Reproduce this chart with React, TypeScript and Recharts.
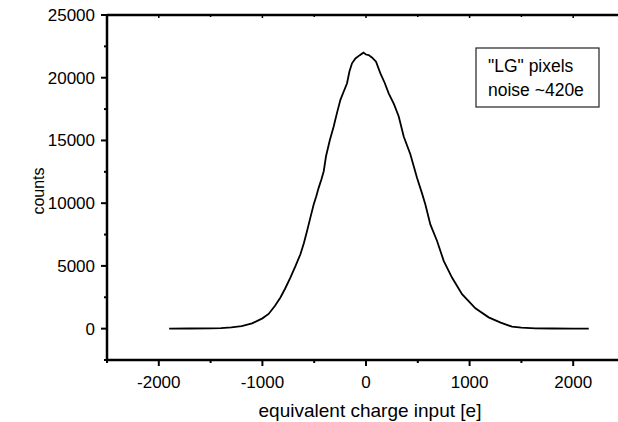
import { LineChart, Line, XAxis, YAxis } from "recharts"

// equivalent charge input [e] and counts
const charge = [
  -1900, -1700, -1500, -1400, -1300, -1200, -1100, -1000, -940, -880,
  -826, -780, -730, -680, -633, -600, -569, -537, -505, -480,
  -457, -430, -408, -386, -350, -312, -280, -247, -215, -183,
  -160, -135, -102, -60, -25, 0, 26, 60, 97, 139,
  180, 219, 270, 316, 364, 428, 493, 540, 573, 621,
  686, 750, 830, 927, 1056, 1184, 1300, 1409, 1500, 1635,
  1800, 2000, 2150,
]
const counts = [
  0, 10, 20, 40, 100, 200, 420, 820, 1170, 1800,
  2480, 3200, 4070, 5000, 5930, 6800, 7780, 8850, 9900, 10550,
  11220, 11900, 12550, 13740, 15000, 16120, 17200, 18240, 18900, 19560,
  20500, 21150, 21540, 21800, 22000, 21850, 21810, 21600, 21280, 20350,
  19600, 18760, 17900, 16910, 15320, 13900, 12010, 10800, 9900, 8310,
  6990, 5400, 4070, 2750, 1620, 900, 480, 160, 80, 25,
  10, 0, 0,
]

const xTicks = [-2500, -2000, -1500, -1000, -500, 0, 500, 1000, 1500, 2000, 2500]
const yTicks = [-2500, 0, 2500, 5000, 7500, 10000, 12500, 15000, 17500, 20000, 22500, 25000]
const legendLines = ['"LG" pixels', "noise ~420e"]

const data = charge.map((q, i) => ({ q, n: counts[i] }))

const FONT = "'Liberation Sans', Arial, sans-serif"

function BottomTick({ x, y, payload }: any) {
  const v = payload.value as number
  const major = v % 1000 === 0
  return (
    <g>
      <line x1={x} x2={x} y1={y} y2={y + (major ? 6 : 3)} stroke="#000" strokeWidth={2} />
      {major && (
        <text x={x} y={y + 27.5} textAnchor="middle" fontSize={17} fontFamily={FONT} fill="#000">
          {v}
        </text>
      )}
    </g>
  )
}

function TopTick({ x, y, payload }: any) {
  const major = (payload.value as number) % 1000 === 0
  return <line x1={x} x2={x} y1={y} y2={y + (major ? 3 : 2)} stroke="#000" strokeWidth={1.5} />
}

function LeftTick({ x, y, payload }: any) {
  const v = payload.value as number
  const major = v % 5000 === 0
  return (
    <g>
      <line x1={x - (major ? 6 : 3)} x2={x} y1={y} y2={y} stroke="#000" strokeWidth={2} />
      {major && (
        <text x={x - 12} y={y + 6} textAnchor="end" fontSize={17} fontFamily={FONT} fill="#000">
          {v}
        </text>
      )}
    </g>
  )
}

export default function App() {
  return (
    <div
      style={{
        position: "fixed",
        left: 0,
        top: 0,
        width: 618,
        height: 422,
        overflow: "hidden",
        background: "#fff",
      }}
    >
      <LineChart width={640} height={422} data={data} margin={{ top: 0, right: 15, left: 0, bottom: 0 }}>
        <XAxis
          dataKey="q"
          type="number"
          domain={[-2500, 2500]}
          ticks={xTicks}
          allowDataOverflow
          interval={0}
          height={62}
          tickSize={0}
          tickMargin={0}
          tick={<BottomTick />}
          axisLine={{ stroke: "#000", strokeWidth: 2.5 }}
          label={{
            content: ({ viewBox }: any) => (
              <text
                x={viewBox.x + viewBox.width / 2 + 4}
                y={viewBox.y + 57}
                textAnchor="middle"
                fontSize={19}
                fontFamily={FONT}
                fill="#000"
              >
                equivalent charge input [e]
              </text>
            ),
          }}
        />
        <XAxis
          xAxisId="top"
          orientation="top"
          dataKey="q"
          type="number"
          domain={[-2500, 2500]}
          ticks={xTicks}
          allowDataOverflow
          interval={0}
          height={15}
          tickSize={0}
          tickMargin={0}
          tick={<TopTick />}
          axisLine={{ stroke: "#000", strokeWidth: 2.5 }}
        />
        <YAxis
          type="number"
          domain={[-2500, 25000]}
          ticks={yTicks}
          allowDataOverflow
          interval={0}
          width={107}
          tickSize={0}
          tickMargin={0}
          tick={<LeftTick />}
          axisLine={{ stroke: "#000", strokeWidth: 2.5 }}
          label={{
            content: () => (
              <text
                x={43.5}
                y={191}
                transform="rotate(-90, 43.5, 191)"
                textAnchor="middle"
                fontSize={16}
                fontFamily={FONT}
                fill="#000"
              >
                counts
              </text>
            ),
          }}
        />
        <Line
          dataKey="n"
          type="linear"
          stroke="#000"
          strokeWidth={1.8}
          dot={false}
          isAnimationActive={false}
        />
      </LineChart>
      <svg
        width={618}
        height={422}
        style={{ position: "absolute", left: 0, top: 0, pointerEvents: "none" }}
      >
        <rect x={476} y={48} width={123} height={59} fill="#fff" stroke="#222" strokeWidth={1.2} />
        {legendLines.map((t, i) => (
          <text key={t} x={488} y={72 + i * 24} fontSize={17.5} fontFamily={FONT} fill="#000">
            {t}
          </text>
        ))}
      </svg>
    </div>
  )
}
